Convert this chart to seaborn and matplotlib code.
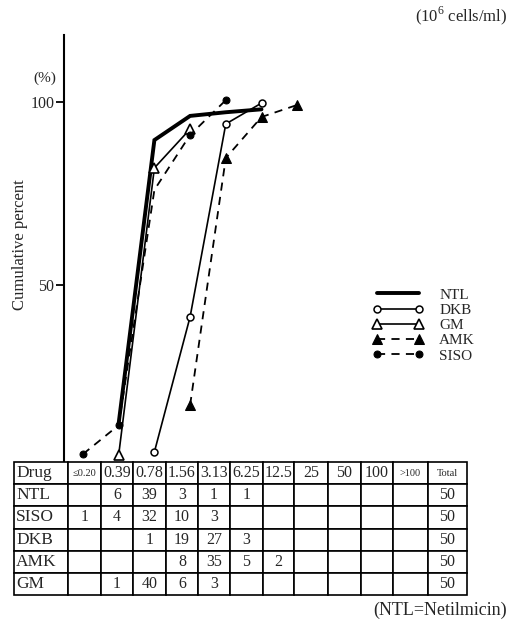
import matplotlib
matplotlib.use("Agg")
import matplotlib.pyplot as plt
import seaborn as sns
import numpy as np

# ---------------- data ----------------
conc_labels = ["≤0.20", "0.39", "0.78", "1.56", "3.13", "6.25", "12.5", "25", "50", "100", ">100"]
# cumulative percent curves (x = concentration index)
ntl_x = [1, 2, 3, 4, 5]
ntl_y = [12.3, 89.6, 96.2, 97.2, 98.0]
dkb_x = [2, 3, 4, 5]
dkb_y = [4.4, 41.3, 94.0, 99.7]
gm_x = [1, 2, 3]
gm_y = [3.6, 82.0, 92.6]
amk_x = [3, 4, 5, 6]
amk_y = [17.2, 84.7, 95.9, 99.2]
siso_x = [0, 1, 2, 3, 4]
siso_y = [3.8, 11.7, 76.0, 91.0, 100.5]

# distribution table
table_drugs = ["NTL", "SISO", "DKB", "AMK", "GM"]
table_counts = [
    ["", "6", "39", "3", "1", "1", "", "", "", "", ""],
    ["1", "4", "32", "10", "3", "", "", "", "", "", ""],
    ["", "", "1", "19", "27", "3", "", "", "", "", ""],
    ["", "", "", "8", "35", "5", "2", "", "", "", ""],
    ["", "1", "40", "6", "3", "", "", "", "", "", ""],
]
table_totals = ["50", "50", "50", "50", "50"]
yticks = [50, 100]

# ---------------- style ----------------
sns.set_theme(style="white")
plt.rcParams["font.family"] = ["Liberation Serif", "DejaVu Serif"]
plt.rcParams["mathtext.fontset"] = "custom"
plt.rcParams["mathtext.rm"] = "Liberation Serif"

W, H = 519, 620
fig = plt.figure(figsize=(W / 100, H / 100), dpi=100)

# main axes: spine at x=64px, from y=35px to y=462px
ax_l, ax_r, ax_t, ax_b = 64, 360, 35, 462
ax = fig.add_axes([ax_l / W, 1 - ax_b / H, (ax_r - ax_l) / W, (ax_b - ax_t) / H])
px_per_x = 35.7
x0_px = 83
ax.set_xlim((ax_l - x0_px) / px_per_x, (ax_r - x0_px) / px_per_x)
# 100 -> 102px, 50 -> 285px
ppu = (285 - 102) / 50.0
y0_px = 285 + 50 * ppu
ax.set_ylim((y0_px - ax_b) / ppu, (y0_px - ax_t) / ppu)

dash = (0, (4.5, 3.5))
sns.lineplot(x=ntl_x, y=ntl_y, ax=ax, color="black", lw=2.8, label="NTL",
             solid_joinstyle="miter")
sns.lineplot(x=dkb_x, y=dkb_y, ax=ax, color="black", lw=1.2, marker="o", markersize=5,
             markerfacecolor="white", markeredgecolor="black", markeredgewidth=1.1, label="DKB")
sns.lineplot(x=gm_x, y=gm_y, ax=ax, color="black", lw=1.2, marker="^", markersize=6.5,
             markerfacecolor="white", markeredgecolor="black", markeredgewidth=1.2, label="GM")
sns.lineplot(x=amk_x, y=amk_y, ax=ax, color="black", lw=1.3, linestyle=dash, marker="^",
             markersize=6.5, markerfacecolor="black", markeredgecolor="black", label="AMK")
sns.lineplot(x=siso_x, y=siso_y, ax=ax, color="black", lw=1.3, linestyle=dash, marker="o",
             markersize=5, markerfacecolor="black", markeredgecolor="black", label="SISO",
             markevery=[0, 1, 3, 4])

for s in ["top", "right", "bottom"]:
    ax.spines[s].set_visible(False)
ax.spines["left"].set_linewidth(1.5)
ax.spines["left"].set_color("black")
ax.set_xticks([])
ax.set_yticks(yticks)
ax.set_yticklabels([str(v) for v in yticks], fontsize=11.5)
ax.tick_params(axis="y", direction="out", length=6, width=1.3, color="black", pad=1,
               left=True)
ax.set_xlabel("")
ax.set_ylabel("")

leg = ax.legend(loc="upper left", bbox_to_anchor=(372 / W, 1 - 288 / H),
                bbox_transform=fig.transFigure, frameon=False, numpoints=2,
                handlelength=3.4, handletextpad=1.0, labelspacing=0.1,
                borderpad=0, borderaxespad=0, fontsize=11)
for h in leg.legend_handles:
    try:
        h.set_markevery(None)
    except Exception:
        pass

fig.text(20 / W, 1 - 245 / H, "Cumulative percent", rotation=90, ha="center", va="center",
         fontsize=12)
fig.text(45 / W, 1 - 78 / H, "(%)", ha="center", va="center", fontsize=11)
fig.text(507 / W, 1 - 16 / H, r"(10$^6$ cells/ml)", ha="right", va="center", fontsize=12)
fig.text(507 / W, 1 - 610 / H, "(NTL=Netilmicin)", ha="right", va="center", fontsize=13)

# ---------------- table ----------------
tl, tr, tt, tb = 14, 467, 462, 595
tax = fig.add_axes([tl / W, 1 - tb / H, (tr - tl) / W, (tb - tt) / H])
tax.axis("off")
col_px = [54, 33, 32, 33, 32, 32, 33, 31, 34, 33, 32, 35, 39]
col_w = [c / sum(col_px) for c in col_px]
header = ["Drug"] + conc_labels + ["Total"]
cells = [[d] + row + [t] for d, row, t in zip(table_drugs, table_counts, table_totals)]
tbl = tax.table(cellText=[header] + cells, colWidths=col_w, bbox=[0, 0, 1, 1],
                cellLoc="center")
tbl.auto_set_font_size(False)
for (r, c), cell in tbl.get_celld().items():
    cell.set_linewidth(1.2)
    cell.set_edgecolor("black")
    txt = cell.get_text()
    txt.set_fontsize(11.5)
    if c == 0:
        txt.set_ha("left")
        txt.set_fontsize(12.5)
        cell.PAD = 0.04
    if r == 0 and c in (1, 11, 12):
        txt.set_fontsize(7.5)

fig.savefig("out.png", dpi=100)
